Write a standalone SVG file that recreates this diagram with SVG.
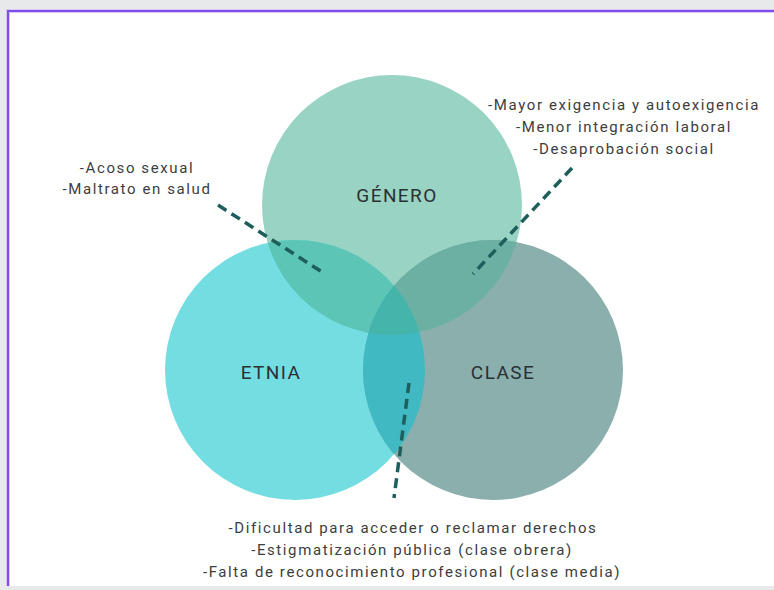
<svg xmlns="http://www.w3.org/2000/svg" width="774" height="590" viewBox="0 0 774 590">
<style>
.lbl{font-family:Roboto,"Liberation Sans",sans-serif;font-size:19px;fill:#2b3033;text-anchor:middle;letter-spacing:1.4px}
.note{font-family:Roboto,"Liberation Sans",sans-serif;font-size:15px;fill:#3d3d3d;text-anchor:middle;letter-spacing:1.6px}
.dash{stroke:#1e5e5b;stroke-width:3.5;stroke-dasharray:10 6;fill:none}
</style>
<defs>
<clipPath id="cG"><circle cx="392" cy="205" r="130"/></clipPath>
<clipPath id="cE"><circle cx="295" cy="370" r="130"/></clipPath>
<clipPath id="cC"><circle cx="493" cy="370" r="130"/></clipPath>
</defs>
<rect width="774" height="590" fill="#e8e9eb"/>
<rect x="8" y="11" width="790" height="600" fill="#ffffff" stroke="#d9c6ff" stroke-width="4"/>
<rect x="8" y="11" width="790" height="600" fill="none" stroke="#7f4fe6" stroke-width="2"/>
<rect x="0" y="586" width="774" height="4" fill="#e8e9eb"/>
<g id="genero">
<circle cx="392" cy="205" r="130" fill="#99d3c4"/>
</g>
<g id="etnia">
<circle cx="295" cy="370" r="130" fill="#73dde2"/>
</g>
<g id="clase">
<circle cx="493" cy="370" r="130" fill="#8aafad"/>
</g>
<g id="overlaps">
<g clip-path="url(#cG)"><circle cx="295" cy="370" r="130" fill="#5cc5b6"/></g>
<g clip-path="url(#cG)"><circle cx="493" cy="370" r="130" fill="#6bb0a3"/></g>
<g clip-path="url(#cE)"><circle cx="493" cy="370" r="130" fill="#40b9c3"/></g>
<g clip-path="url(#cE)"><g clip-path="url(#cG)"><circle cx="493" cy="370" r="130" fill="#45b5ac"/></g></g>
</g>
<g id="labels">
<text class="lbl" x="397" y="202">GÉNERO</text>
<text class="lbl" x="271" y="379">ETNIA</text>
<text class="lbl" x="503" y="379">CLASE</text>
</g>
<g id="connectors">
<line class="dash" x1="218" y1="205" x2="322" y2="272"/>
<line class="dash" x1="572" y1="168" x2="473" y2="274"/>
<line class="dash" x1="409" y1="383" x2="394" y2="498"/>
</g>
<g id="note-left">
<text class="note" x="137" y="173">-Acoso sexual</text>
<text class="note" x="137" y="194">-Maltrato en salud</text>
</g>
<g id="note-right">
<text class="note" x="624" y="110">-Mayor exigencia y autoexigencia</text>
<text class="note" x="624" y="132">-Menor integración laboral</text>
<text class="note" x="624" y="154">-Desaprobación social</text>
</g>
<g id="note-bottom">
<text class="note" x="413" y="533">-Dificultad para acceder o reclamar derechos</text>
<text class="note" x="412" y="555">-Estigmatización pública (clase obrera)</text>
<text class="note" x="412" y="577">-Falta de reconocimiento profesional (clase media)</text>
</g>
</svg>
